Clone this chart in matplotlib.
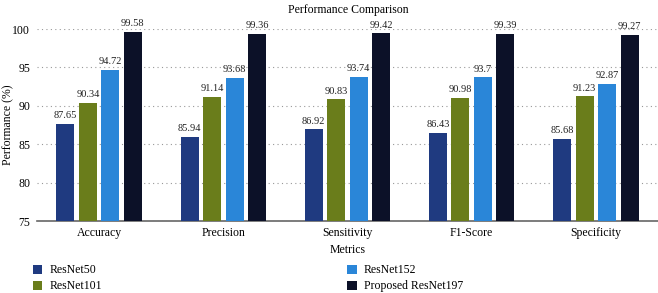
import matplotlib
matplotlib.use("Agg")
import matplotlib.pyplot as plt
import numpy as np

plt.rcParams['font.family'] = ['Liberation Serif', 'DejaVu Serif']

categories = ["Accuracy", "Precision", "Sensitivity", "F1-Score", "Specificity"]
series_names = ["ResNet50", "ResNet101", "ResNet152", "Proposed ResNet197"]
resnet50 = [87.65, 85.94, 86.92, 86.43, 85.68]
resnet101 = [90.34, 91.14, 90.83, 90.98, 91.23]
resnet152 = [94.72, 93.68, 93.74, 93.7, 92.87]
proposed = [99.58, 99.36, 99.42, 99.39, 99.27]
labels = [["87.65", "85.94", "86.92", "86.43", "85.68"],
          ["90.34", "91.14", "90.83", "90.98", "91.23"],
          ["94.72", "93.68", "93.74", "93.7", "92.87"],
          ["99.58", "99.36", "99.42", "99.39", "99.27"]]
yticks = [75, 80, 85, 90, 95, 100]
colors = ["#1f3a80", "#6a7d1b", "#2a86d8", "#0c1128"]

fig = plt.figure(figsize=(6.58, 2.93), dpi=100)
ax = fig.add_axes([0.0562, 0.2457, 0.9438, 0.6553])

x = np.arange(len(categories))
width = 0.145
step = 0.181
data = [resnet50, resnet101, resnet152, proposed]
handles = []
for i, (vals, c) in enumerate(zip(data, colors)):
    pos = x + (i - 1.5) * step
    b = ax.bar(pos, [v - 75 for v in vals], width, bottom=75, color=c, label=series_names[i], zorder=3)
    handles.append(b)
    for p, v, t in zip(pos, vals, labels[i]):
        ax.text(p, v + 0.5, t, ha='center', va='bottom', fontsize=7.5, color='#222222', clip_on=False)

ax.set_xlim(-0.5, 4.5)
ax.set_ylim(75, 100)
ax.set_yticks(yticks)
ax.set_xticks(x)
ax.set_xticklabels(categories, fontsize=8.5)
ax.tick_params(axis='y', labelsize=8.5, length=0, pad=5)
ax.tick_params(axis='x', length=0, pad=4)
ax.yaxis.grid(True, linestyle=(0, (1, 3)), color='#999999', linewidth=0.8, zorder=0)
for s in ['top', 'right', 'left']:
    ax.spines[s].set_visible(False)
ax.spines['bottom'].set_color('#666666')
ax.spines['bottom'].set_linewidth(1.2)
ax.set_xlabel("Metrics", fontsize=8.5, labelpad=4)
ax.set_ylabel("Performance (%)", fontsize=8.5)
ax.yaxis.set_label_coords(-0.037, 0.5)
fig.text(0.53, 0.985, "Performance Comparison", ha='center', va='top', fontsize=8.5)

fig.legend(handles[:2], series_names[:2], loc='upper left', bbox_to_anchor=(0.05, 0.098),
           frameon=False, fontsize=8.5, handlelength=0.8, handleheight=0.8, handletextpad=0.6,
           labelspacing=0.35, borderaxespad=0, borderpad=0)
fig.legend(handles[2:], series_names[2:], loc='upper left', bbox_to_anchor=(0.528, 0.098),
           frameon=False, fontsize=8.5, handlelength=0.8, handleheight=0.8, handletextpad=0.6,
           labelspacing=0.35, borderaxespad=0, borderpad=0)

fig.savefig("out.png", dpi=100)
